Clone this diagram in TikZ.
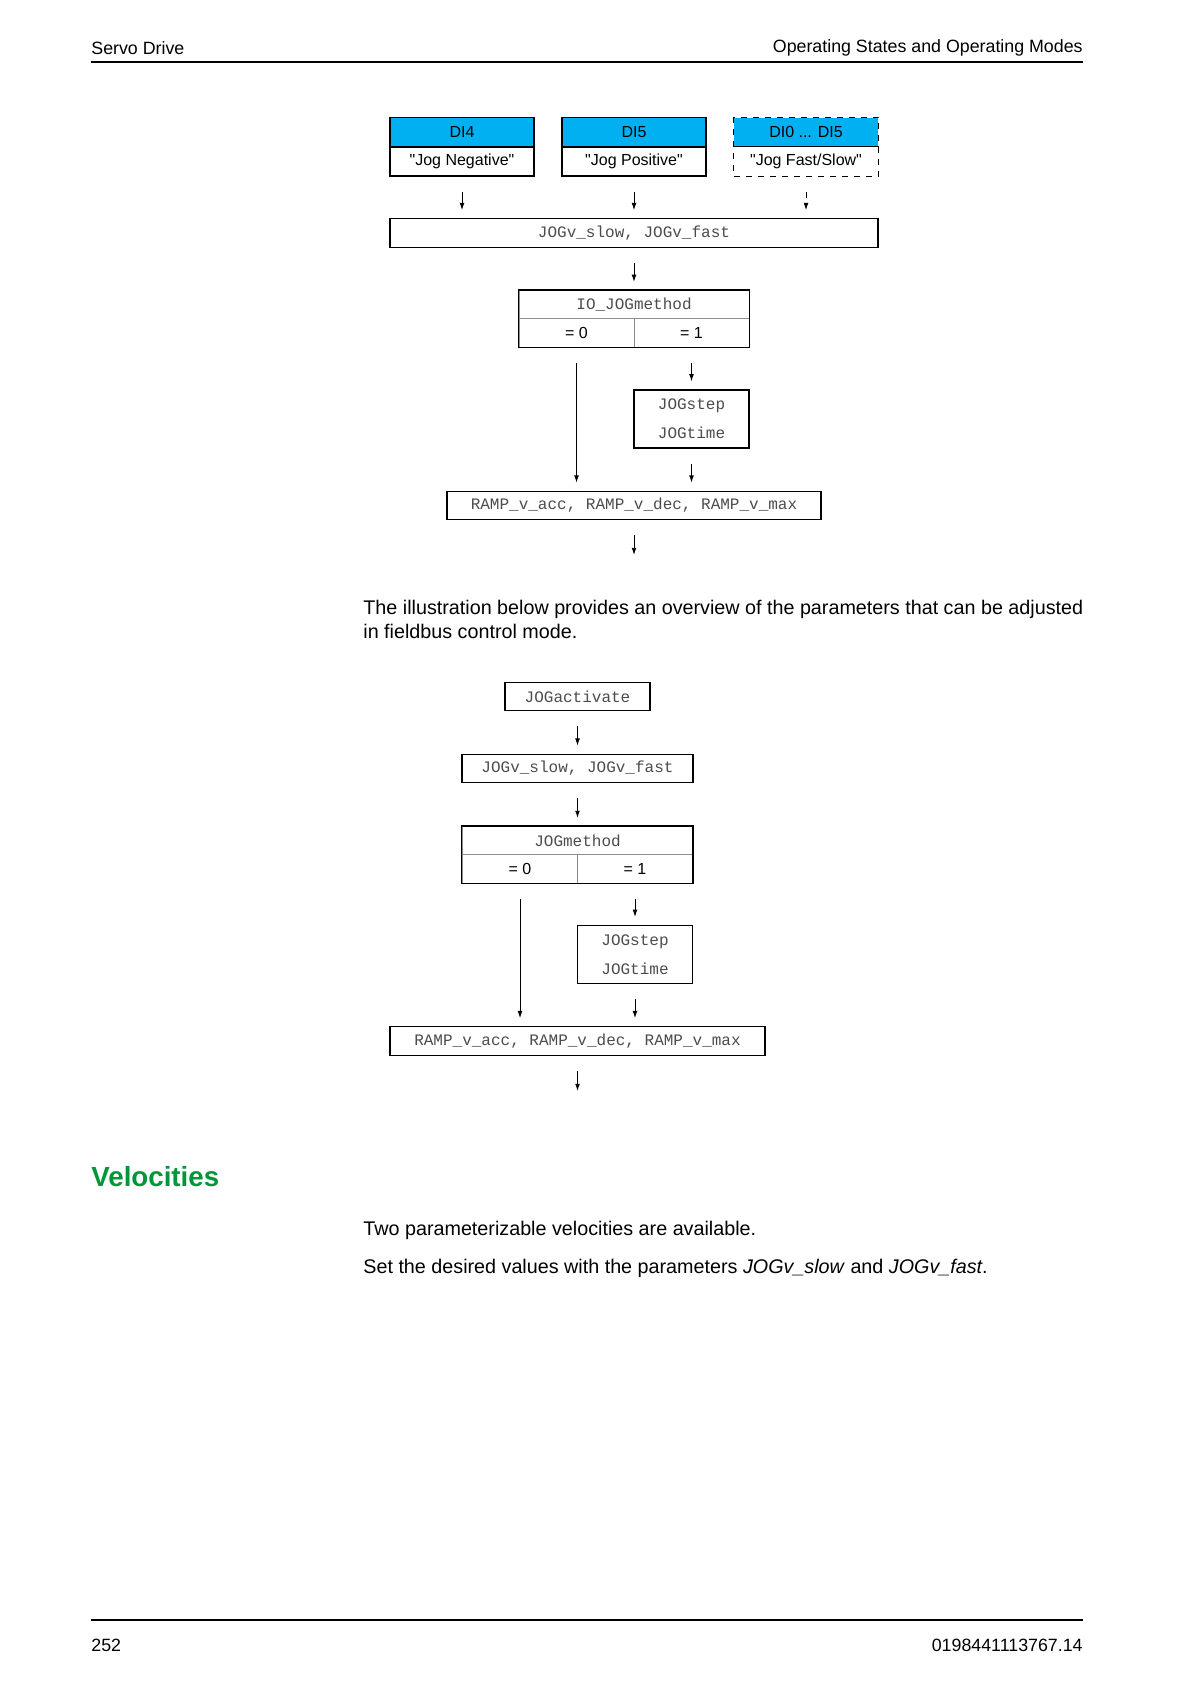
\documentclass[tikz,border=0pt]{standalone}
\usepackage{fontspec}
\setmainfont{Liberation Sans}
\setmonofont{Liberation Mono}
\usetikzlibrary{arrows.meta, positioning}
\definecolor{dicyan}{RGB}{0,176,240}
\definecolor{headgreen}{RGB}{0,150,57}

\tikzset{
  pagetext/.style={inner sep=0pt, font=\fontsize{8.9}{11}\selectfont},
  bodytext/.style={inner sep=0pt, font=\fontsize{9.87}{12}\selectfont},
  rule/.style={line width=1.1pt},
  dihead/.style={draw, line width=0.6pt, fill=dicyan, minimum width=72pt, minimum height=14.25pt, inner sep=0pt, font=\fontsize{8}{10}\selectfont},
  dibody/.style={draw, line width=0.6pt, minimum width=72pt, minimum height=14.25pt, inner sep=0pt, font=\fontsize{8}{10}\selectfont},
  parambox/.style={draw, line width=0.6pt, minimum height=14.25pt, inner sep=0pt, font=\fontsize{8}{10}\selectfont\ttfamily, text=black!70},
  cell/.style={draw=black!45, line width=0.3pt, minimum height=14.25pt, inner sep=0pt, font=\fontsize{8}{10}\selectfont},
  arr/.style={line width=0.45pt, -{Latex[length=3.6pt, width=2.4pt]}, shorten <=7.5pt, shorten >=4pt}
}

\begin{document}
\begin{tikzpicture}[x=0.5pt, y=-0.5pt]
\useasboundingbox (0,0) rectangle (1191,1684);

% page header
\node (hleft) [pagetext, anchor=west] at (91,48) {Servo Drive};
\node (hright) [pagetext, anchor=east] at (1083,48) {Operating States and Operating Modes};
\draw[rule] (91,62) -- (1083,62);

% digital inputs
\node (di4) [dihead] at (462,132) {DI4};
\node (jogneg) [dibody, below=0pt of di4] {\textquotedbl Jog Negative\textquotedbl};
\node (di5) [dihead] at (634,132) {DI5};
\node (jogpos) [dibody, below=0pt of di5] {\textquotedbl Jog Positive\textquotedbl};
\node (dix) [dihead, draw=none] at (806,132) {DI0 ... DI5};
\node (jogfs) [dibody, draw=none, below=0pt of dix] {\textquotedbl Jog Fast/Slow\textquotedbl};
\draw[line width=0.6pt, dashed] (dix.north west) rectangle (jogfs.south east);
\draw[line width=0.6pt] (dix.south west) -- (dix.south east);

\node (vel1) [parambox, minimum width=244pt] at (634,233) {JOGv\_slow, JOGv\_fast};
\draw[arr] (jogneg) -- (jogneg |- vel1.north);
\draw[arr] (jogpos) -- (jogpos |- vel1.north);
\draw[arr, dashed] (jogfs) -- (jogfs |- vel1.north);

% IO_JOGmethod
\node (iometh) [cell, minimum width=115pt, font=\fontsize{8}{10}\selectfont\ttfamily, text=black!70] at (634,304.5) {IO\_JOGmethod};
\node (iozero) [cell, minimum width=57.5pt] at (576.5,333) {= 0};
\node (ioone) [cell, minimum width=57.5pt] at (691.5,333) {= 1};
\draw[line width=0.6pt] (iometh.north west) rectangle (ioone.south east);
\draw[arr] (vel1) -- (iometh);

\node (step1) [parambox, minimum width=57.5pt, minimum height=29pt, align=center,
  font=\fontsize{8}{14.5}\selectfont\ttfamily] at (691.5,419) {JOGstep\\JOGtime};
\node (ramp1) [parambox, minimum width=187pt] at (634,505.5) {RAMP\_v\_acc, RAMP\_v\_dec, RAMP\_v\_max};
\coordinate (out1) at (634,563);
\draw[arr] (ioone) -- (step1);
\draw[arr] (iozero) -- (iozero |- ramp1.north);
\draw[arr] (step1) -- (step1 |- ramp1.north);
\draw[arr] (ramp1) -- (out1);

% fieldbus text
\node (para1) [bodytext, anchor=west] at (363,609) {The illustration below provides an overview of the parameters that can be adjusted};
\node (para2) [bodytext, anchor=west] at (363,631) {in fieldbus control mode.};

% fieldbus
\node (activ) [parambox, minimum width=72.5pt] at (577.5,696.5) {JOGactivate};
\node (vel2) [parambox, minimum width=115.5pt] at (577.5,768.5) {JOGv\_slow, JOGv\_fast};
\draw[arr] (activ) -- (vel2);

\node (fbmeth) [cell, minimum width=115.5pt, font=\fontsize{8}{10}\selectfont\ttfamily, text=black!70] at (577.5,840.5) {JOGmethod};
\node (fbzero) [cell, minimum width=57.75pt] at (520,869) {= 0};
\node (fbone) [cell, minimum width=57.75pt] at (635,869) {= 1};
\draw[line width=0.6pt] (fbmeth.north west) rectangle (fbone.south east);
\draw[arr] (vel2) -- (fbmeth);

\node (step2) [parambox, minimum width=57.75pt, minimum height=29pt, align=center,
  font=\fontsize{8}{14.5}\selectfont\ttfamily] at (635,954.5) {JOGstep\\JOGtime};
\node (ramp2) [parambox, minimum width=187.5pt] at (577.5,1041) {RAMP\_v\_acc, RAMP\_v\_dec, RAMP\_v\_max};
\coordinate (out2) at (577.5,1099);
\draw[arr] (fbone) -- (step2);
\draw[arr] (fbzero) -- (fbzero |- ramp2.north);
\draw[arr] (step2) -- (step2 |- ramp2.north);
\draw[arr] (ramp2) -- (out2);

% velocities
\node (velhead) [inner sep=0pt, anchor=west, text=headgreen, font=\fontsize{13.85}{16}\selectfont\bfseries] at (91,1177) {Velocities};
\node (velt1) [bodytext, anchor=west] at (363,1230) {Two parameterizable velocities are available.};
\node (velt2) [bodytext, anchor=west] at (363,1268) {Set the desired values with the parameters \textit{JOGv\_slow} and \textit{JOGv\_fast}.};

% page footer
\draw[rule] (91,1620) -- (1083,1620);
\node (fleft) [pagetext, anchor=west] at (91,1645) {252};
\node (fright) [pagetext, anchor=east] at (1083,1645) {0198441113767.14};
\end{tikzpicture}
\end{document}
